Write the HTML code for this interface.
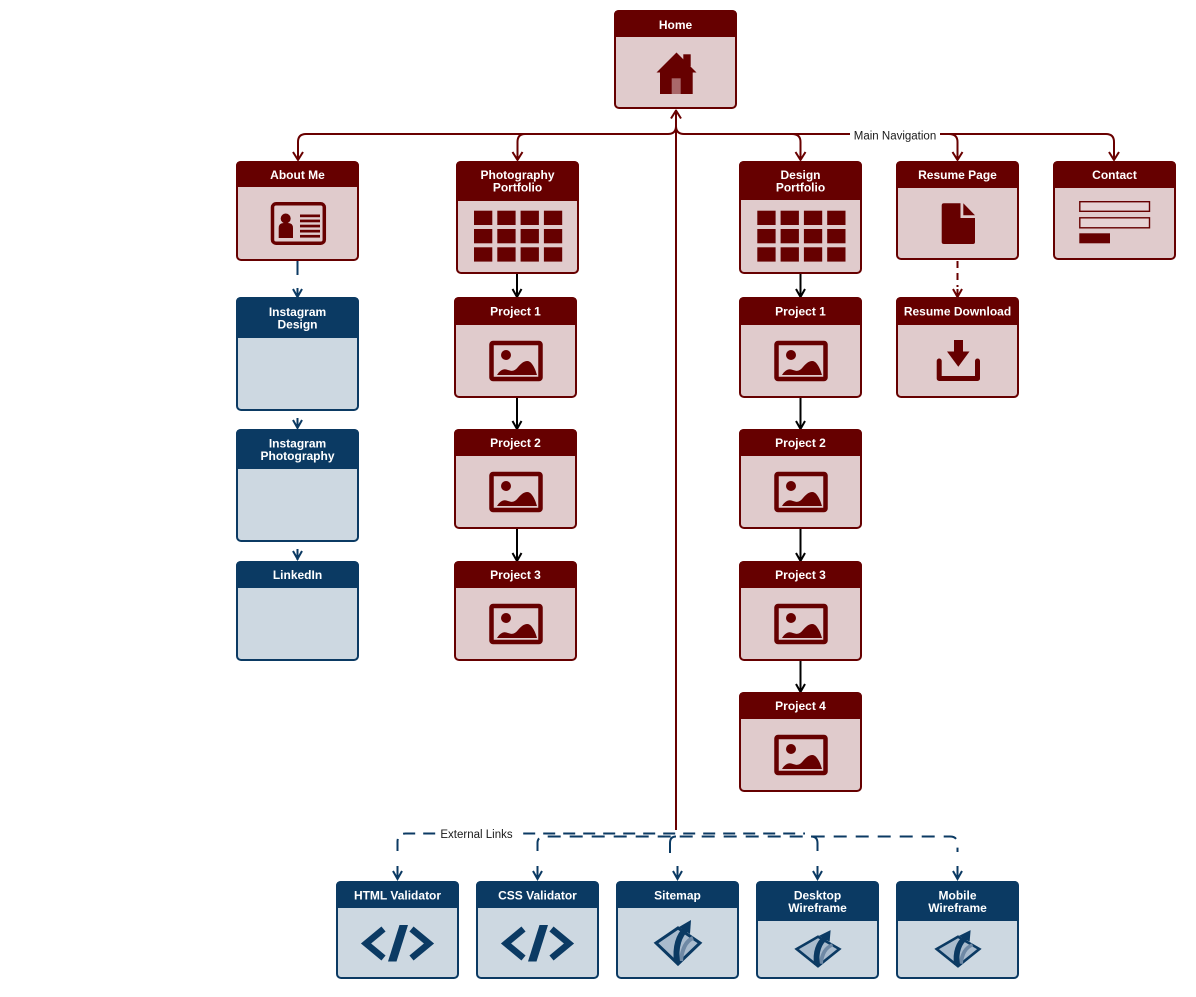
<!DOCTYPE html>
<html>
<head>
<meta charset="utf-8">
<style>
  html,body{margin:0;padding:0;background:#fff;}
  svg{display:block;}
  text{font-family:"Liberation Sans",Arial,sans-serif;}
  .h{fill:#fff;font-weight:bold;font-size:12px;text-anchor:middle;}
  .lbl{fill:#1a1a1a;font-size:11.5px;text-anchor:middle;}
</style>
</head>
<body>
<svg width="1196" height="997" viewBox="0 0 1196 997" xmlns="http://www.w3.org/2000/svg">
  <rect x="0" y="0" width="1196" height="997" fill="#fff"/>

  <!-- ============ Main navigation connectors ============ -->
  <g fill="none" stroke="#690000" stroke-width="2" stroke-linejoin="round">
    <path d="M676,110 V830"/>
    <path d="M676,112 V126 Q676,134 668,134 H306 Q298,134 298,142 V160"/>
    <path d="M525,134 Q517.5,134 517.5,142 V160"/>
    <path d="M676,112 V126 Q676,134 684,134 H1106 Q1114,134 1114,142 V160"/>
    <path d="M792,134 Q800.5,134 800.5,142 V160"/>
    <path d="M949,134 Q957.5,134 957.5,142 V160"/>
    <!-- arrowheads -->
    <polyline points="671,118.5 676,110.5 681,118.5"/>
    <polyline points="293,152 298,160 303,152"/>
    <polyline points="512.5,152 517.5,160 522.5,152"/>
    <polyline points="795.5,152 800.5,160 805.5,152"/>
    <polyline points="952.5,152 957.5,160 962.5,152"/>
    <polyline points="1109,152 1114,160 1119,152"/>
    <!-- resume dashed -->
    <path d="M957.5,261 V287" stroke-dasharray="7 5"/>
    <polyline points="953,289 957.5,297 962,289"/>
    <path d="M957.5,289 V296"/>
  </g>
  <rect x="850" y="128" width="90" height="14" fill="#fff"/>
  <text class="lbl" x="895" y="139.5">Main Navigation</text>

  <!-- black project connectors -->
  <g fill="none" stroke="#000" stroke-width="2">
    <path d="M517,273 V296"/><polyline points="512.5,289 517,297 521.5,289"/>
    <path d="M517,397 V428"/><polyline points="512.5,421 517,429 521.5,421"/>
    <path d="M517,528 V560"/><polyline points="512.5,553 517,561 521.5,553"/>
    <path d="M800.5,273 V296"/><polyline points="796,289 800.5,297 805,289"/>
    <path d="M800.5,397 V428"/><polyline points="796,421 800.5,429 805,421"/>
    <path d="M800.5,528 V560"/><polyline points="796,553 800.5,561 805,553"/>
    <path d="M800.5,660 V691"/><polyline points="796,684 800.5,692 805,684"/>
  </g>

  <!-- navy left column connectors -->
  <g fill="none" stroke="#0b3a63" stroke-width="2">
    <path d="M297.5,261 V275"/>
    <path d="M297.5,288 V296"/><polyline points="293,289 297.5,297 302,289"/>
    <path d="M297.5,418 V428"/><polyline points="293,420 297.5,428 302,420"/>
    <path d="M297.5,549 V560"/><polyline points="293,551 297.5,559 302,551"/>
  </g>

  <!-- ============ External links dashed ============ -->
  <g fill="none" stroke="#0b3a63" stroke-width="2">
    <path d="M397.5,851 V842 Q397.5,833.5 405.5,833.5 H805" stroke-dasharray="12 8"/>
    <path d="M537.5,851 V843 Q537.5,836.5 545,836.5 H950 Q957.5,836.5 957.5,844 V852" stroke-dasharray="13 9"/>
    <path d="M670,853 V843 Q670,836.5 676,836.5"/>
    <path d="M817.5,851 V843 Q817.5,836.5 811,836.5"/>
    <!-- arrowheads -->
    <path d="M397.5,866 V879"/><polyline points="393,871 397.5,879 402,871"/>
    <path d="M537.5,866 V879"/><polyline points="533,871 537.5,879 542,871"/>
    <path d="M677.5,866 V879"/><polyline points="673,871 677.5,879 682,871"/>
    <path d="M817.5,866 V879"/><polyline points="813,871 817.5,879 822,871"/>
    <path d="M957.5,866 V879"/><polyline points="953,871 957.5,879 962,871"/>
  </g>
  <rect x="436" y="827" width="81" height="14" fill="#fff"/>
  <text class="lbl" x="476.5" y="838">External Links</text>

  <!-- ============ Red nodes ============ -->
  <g stroke="#660000" stroke-width="2" fill="#e0cbcc">
    <rect x="615" y="11" width="121" height="97" rx="4"/>
    <rect x="237" y="162" width="121" height="98" rx="4"/>
    <rect x="457" y="162" width="121" height="111" rx="4"/>
    <rect x="740" y="162" width="121" height="111" rx="4"/>
    <rect x="897" y="162" width="121" height="97" rx="4"/>
    <rect x="1054" y="162" width="121" height="97" rx="4"/>
    <rect x="455" y="298" width="121" height="99" rx="4"/>
    <rect x="455" y="430" width="121" height="98" rx="4"/>
    <rect x="455" y="562" width="121" height="98" rx="4"/>
    <rect x="740" y="298" width="121" height="99" rx="4"/>
    <rect x="740" y="430" width="121" height="98" rx="4"/>
    <rect x="740" y="562" width="121" height="98" rx="4"/>
    <rect x="740" y="693" width="121" height="98" rx="4"/>
    <rect x="897" y="298" width="121" height="99" rx="4"/>
  </g>
  <g fill="#660000">
    <path d="M614,37 V15 Q614,10 619,10 H732 Q737,10 737,15 V37 Z"/>
    <path d="M236,187 V166 Q236,161 241,161 H354 Q359,161 359,166 V187 Z"/>
    <path d="M456,201 V166 Q456,161 461,161 H574 Q579,161 579,166 V201 Z"/>
    <path d="M739,200 V166 Q739,161 744,161 H857 Q862,161 862,166 V200 Z"/>
    <path d="M896,188 V166 Q896,161 901,161 H1014 Q1019,161 1019,166 V188 Z"/>
    <path d="M1053,188 V166 Q1053,161 1058,161 H1171 Q1176,161 1176,166 V188 Z"/>
    <path d="M454,325 V302 Q454,297 459,297 H572 Q577,297 577,302 V325 Z"/>
    <path d="M454,456 V434 Q454,429 459,429 H572 Q577,429 577,434 V456 Z"/>
    <path d="M454,588 V566 Q454,561 459,561 H572 Q577,561 577,566 V588 Z"/>
    <path d="M739,325 V302 Q739,297 744,297 H857 Q862,297 862,302 V325 Z"/>
    <path d="M739,456 V434 Q739,429 744,429 H857 Q862,429 862,434 V456 Z"/>
    <path d="M739,588 V566 Q739,561 744,561 H857 Q862,561 862,566 V588 Z"/>
    <path d="M739,719 V697 Q739,692 744,692 H857 Q862,692 862,697 V719 Z"/>
    <path d="M896,325 V302 Q896,297 901,297 H1014 Q1019,297 1019,302 V325 Z"/>
  </g>
  <text class="h" x="675.5" y="29">Home</text>
  <text class="h" x="297.5" y="179">About Me</text>
  <text class="h" x="517.5" y="179">Photography</text>
  <text class="h" x="517.5" y="191.5">Portfolio</text>
  <text class="h" x="800.5" y="179">Design</text>
  <text class="h" x="800.5" y="191.5">Portfolio</text>
  <text class="h" x="957.5" y="179">Resume Page</text>
  <text class="h" x="1114.5" y="179">Contact</text>
  <text class="h" x="515.5" y="315.5">Project 1</text>
  <text class="h" x="515.5" y="447">Project 2</text>
  <text class="h" x="515.5" y="579">Project 3</text>
  <text class="h" x="800.5" y="315.5">Project 1</text>
  <text class="h" x="800.5" y="447">Project 2</text>
  <text class="h" x="800.5" y="579">Project 3</text>
  <text class="h" x="800.5" y="710">Project 4</text>
  <text class="h" x="957.5" y="315.5">Resume Download</text>

  <!-- ============ Navy nodes ============ -->
  <g stroke="#0b3a63" stroke-width="2" fill="#cdd8e1">
    <rect x="237" y="298" width="121" height="112" rx="4"/>
    <rect x="237" y="430" width="121" height="111" rx="4"/>
    <rect x="237" y="562" width="121" height="98" rx="4"/>
    <rect x="337" y="882" width="121" height="96" rx="4"/>
    <rect x="477" y="882" width="121" height="96" rx="4"/>
    <rect x="617" y="882" width="121" height="96" rx="4"/>
    <rect x="757" y="882" width="121" height="96" rx="4"/>
    <rect x="897" y="882" width="121" height="96" rx="4"/>
  </g>
  <g fill="#0b3a63">
    <path d="M236,338 V302 Q236,297 241,297 H354 Q359,297 359,302 V338 Z"/>
    <path d="M236,469 V434 Q236,429 241,429 H354 Q359,429 359,434 V469 Z"/>
    <path d="M236,588 V566 Q236,561 241,561 H354 Q359,561 359,566 V588 Z"/>
    <path d="M336,908 V886 Q336,881 341,881 H454 Q459,881 459,886 V908 Z"/>
    <path d="M476,908 V886 Q476,881 481,881 H594 Q599,881 599,886 V908 Z"/>
    <path d="M616,908 V886 Q616,881 621,881 H734 Q739,881 739,886 V908 Z"/>
    <path d="M756,921 V886 Q756,881 761,881 H874 Q879,881 879,886 V921 Z"/>
    <path d="M896,921 V886 Q896,881 901,881 H1014 Q1019,881 1019,886 V921 Z"/>
  </g>
  <text class="h" x="297.5" y="316">Instagram</text>
  <text class="h" x="297.5" y="328.5">Design</text>
  <text class="h" x="297.5" y="447.5">Instagram</text>
  <text class="h" x="297.5" y="460">Photography</text>
  <text class="h" x="297.5" y="579">LinkedIn</text>
  <text class="h" x="397.5" y="899.5">HTML Validator</text>
  <text class="h" x="537.5" y="899.5">CSS Validator</text>
  <text class="h" x="677.5" y="899.5">Sitemap</text>
  <text class="h" x="817.5" y="899.5">Desktop</text>
  <text class="h" x="817.5" y="912">Wireframe</text>
  <text class="h" x="957.5" y="899.5">Mobile</text>
  <text class="h" x="957.5" y="912">Wireframe</text>

  <!-- ============ Icons ============ -->
  <!-- Home house -->
  <g fill="#660000">
    <polygon points="656.5,72.5 676.5,52.5 696.5,72.5"/>
    <rect x="683.3" y="54.3" width="7.4" height="12"/>
    <rect x="660" y="71" width="32.7" height="23"/>
    <rect x="671.7" y="78.3" width="9" height="15.7" fill="#a9686a"/>
  </g>

  <!-- ID card -->
  <g fill="#660000">
    <rect x="272.5" y="203.8" width="51.8" height="39.4" rx="3.5" fill="none" stroke="#660000" stroke-width="3.5"/>
    <circle cx="285.7" cy="218.5" r="5"/>
    <path d="M278.7,238 V228 Q278.7,223 283.7,223 H288 Q293,223 293,228 V238 Z"/>
    <rect x="300" y="214.5" width="20" height="2.7"/>
    <rect x="300" y="219.6" width="20" height="2.7"/>
    <rect x="300" y="224.7" width="20" height="2.7"/>
    <rect x="300" y="229.8" width="20" height="2.7"/>
    <rect x="300" y="234.9" width="20" height="2.7"/>
  </g>

  <!-- Grids -->
  <g fill="#660000">
    <rect x="474" y="210.7" width="18.3" height="14.3"/><rect x="497.3" y="210.7" width="18.3" height="14.3"/><rect x="520.6" y="210.7" width="18.3" height="14.3"/><rect x="543.9" y="210.7" width="18.3" height="14.3"/>
    <rect x="474" y="229" width="18.3" height="14.3"/><rect x="497.3" y="229" width="18.3" height="14.3"/><rect x="520.6" y="229" width="18.3" height="14.3"/><rect x="543.9" y="229" width="18.3" height="14.3"/>
    <rect x="474" y="247.3" width="18.3" height="14.3"/><rect x="497.3" y="247.3" width="18.3" height="14.3"/><rect x="520.6" y="247.3" width="18.3" height="14.3"/><rect x="543.9" y="247.3" width="18.3" height="14.3"/>

    <rect x="757.3" y="210.7" width="18.3" height="14.3"/><rect x="780.6" y="210.7" width="18.3" height="14.3"/><rect x="803.9" y="210.7" width="18.3" height="14.3"/><rect x="827.2" y="210.7" width="18.3" height="14.3"/>
    <rect x="757.3" y="229" width="18.3" height="14.3"/><rect x="780.6" y="229" width="18.3" height="14.3"/><rect x="803.9" y="229" width="18.3" height="14.3"/><rect x="827.2" y="229" width="18.3" height="14.3"/>
    <rect x="757.3" y="247.3" width="18.3" height="14.3"/><rect x="780.6" y="247.3" width="18.3" height="14.3"/><rect x="803.9" y="247.3" width="18.3" height="14.3"/><rect x="827.2" y="247.3" width="18.3" height="14.3"/>
  </g>

  <!-- Document icon -->
  <g fill="#660000">
    <path d="M944,203.3 H960.5 V218 H975 V242 Q975,244 973,244 H944 Q941.7,244 941.7,242 V205.5 Q941.7,203.3 944,203.3 Z"/>
    <path d="M963.3,203.3 L975,215.2 H963.3 Z"/>
  </g>

  <!-- Contact form icon -->
  <g stroke="#660000" stroke-width="1.4" fill="#e6d3d4">
    <rect x="1079.8" y="201.7" width="69.7" height="9.6"/>
    <rect x="1079.8" y="217.8" width="69.7" height="10"/>
  </g>
  <rect x="1079.3" y="233.3" width="30.7" height="10" fill="#660000"/>

  <!-- Download icon -->
  <g fill="#660000">
    <rect x="954" y="340" width="9" height="13"/>
    <polygon points="947,351.5 969.5,351.5 958.3,366.7"/>
  </g>
  <path d="M939.2,361 V378.5 H977.5 V361" fill="none" stroke="#660000" stroke-width="5" stroke-linecap="round" stroke-linejoin="round"/>

  <!-- Image icons -->
  <g fill="#660000">
    <g transform="translate(516,361)">
      <rect x="-24.5" y="-18" width="49" height="36" rx="1.5" fill="none" stroke="#660000" stroke-width="4.5"/>
      <circle cx="-10" cy="-6" r="5"/>
      <path d="M-19,14 C-16,9 -12,7 -8,9 C-5,10 -2,11 2,6 C6,1 12,-3 16,3 C19,7 20,11 21,14 Z"/>
    </g>
    <g transform="translate(516,492)">
      <rect x="-24.5" y="-18" width="49" height="36" rx="1.5" fill="none" stroke="#660000" stroke-width="4.5"/>
      <circle cx="-10" cy="-6" r="5"/>
      <path d="M-19,14 C-16,9 -12,7 -8,9 C-5,10 -2,11 2,6 C6,1 12,-3 16,3 C19,7 20,11 21,14 Z"/>
    </g>
    <g transform="translate(516,624)">
      <rect x="-24.5" y="-18" width="49" height="36" rx="1.5" fill="none" stroke="#660000" stroke-width="4.5"/>
      <circle cx="-10" cy="-6" r="5"/>
      <path d="M-19,14 C-16,9 -12,7 -8,9 C-5,10 -2,11 2,6 C6,1 12,-3 16,3 C19,7 20,11 21,14 Z"/>
    </g>
    <g transform="translate(801,361)">
      <rect x="-24.5" y="-18" width="49" height="36" rx="1.5" fill="none" stroke="#660000" stroke-width="4.5"/>
      <circle cx="-10" cy="-6" r="5"/>
      <path d="M-19,14 C-16,9 -12,7 -8,9 C-5,10 -2,11 2,6 C6,1 12,-3 16,3 C19,7 20,11 21,14 Z"/>
    </g>
    <g transform="translate(801,492)">
      <rect x="-24.5" y="-18" width="49" height="36" rx="1.5" fill="none" stroke="#660000" stroke-width="4.5"/>
      <circle cx="-10" cy="-6" r="5"/>
      <path d="M-19,14 C-16,9 -12,7 -8,9 C-5,10 -2,11 2,6 C6,1 12,-3 16,3 C19,7 20,11 21,14 Z"/>
    </g>
    <g transform="translate(801,624)">
      <rect x="-24.5" y="-18" width="49" height="36" rx="1.5" fill="none" stroke="#660000" stroke-width="4.5"/>
      <circle cx="-10" cy="-6" r="5"/>
      <path d="M-19,14 C-16,9 -12,7 -8,9 C-5,10 -2,11 2,6 C6,1 12,-3 16,3 C19,7 20,11 21,14 Z"/>
    </g>
    <g transform="translate(801,755)">
      <rect x="-24.5" y="-18" width="49" height="36" rx="1.5" fill="none" stroke="#660000" stroke-width="4.5"/>
      <circle cx="-10" cy="-6" r="5"/>
      <path d="M-19,14 C-16,9 -12,7 -8,9 C-5,10 -2,11 2,6 C6,1 12,-3 16,3 C19,7 20,11 21,14 Z"/>
    </g>
  </g>

  <!-- Code icons -->
  <g fill="none" stroke="#0b3a63" stroke-width="6.5" stroke-linejoin="miter" stroke-miterlimit="6">
    <polyline points="383.5,929 366,943.5 383.5,958"/>
    <polyline points="411.5,929 429,943.5 411.5,958"/>
    <polyline points="523.5,929 506,943.5 523.5,958"/>
    <polyline points="551.5,929 569,943.5 551.5,958"/>
  </g>
  <g fill="#0b3a63">
    <polygon points="388,961.5 396.5,961.5 408,925 399.5,925"/>
    <polygon points="528,961.5 536.5,961.5 548,925 539.5,925"/>
  </g>

  <!-- Diamond/arrow icons -->
  <g transform="translate(678,943)">
    <path d="M-22,0 L0,-15 L22,0 L0,21 Z" fill="#a9bbcd" stroke="#0b3a63" stroke-width="3" stroke-linejoin="miter"/>
    <path d="M3,18 C4,6 8,-2 15,-5" fill="none" stroke="#6f89a5" stroke-width="4"/>
    <path d="M-1,19 C-3,4 1,-8 8,-14" fill="none" stroke="#0b3a63" stroke-width="6"/>
    <polygon points="1,-16 13,-23 12,-9" fill="#0b3a63"/>
  </g>
  <g transform="translate(818,949) scale(0.97,0.82)">
    <path d="M-22,0 L0,-15 L22,0 L0,21 Z" fill="#a9bbcd" stroke="#0b3a63" stroke-width="3" stroke-linejoin="miter"/>
    <path d="M3,18 C4,6 8,-2 15,-5" fill="none" stroke="#6f89a5" stroke-width="4"/>
    <path d="M-1,19 C-3,4 1,-8 8,-14" fill="none" stroke="#0b3a63" stroke-width="6"/>
    <polygon points="1,-16 13,-23 12,-9" fill="#0b3a63"/>
  </g>
  <g transform="translate(958,949) scale(0.97,0.82)">
    <path d="M-22,0 L0,-15 L22,0 L0,21 Z" fill="#a9bbcd" stroke="#0b3a63" stroke-width="3" stroke-linejoin="miter"/>
    <path d="M3,18 C4,6 8,-2 15,-5" fill="none" stroke="#6f89a5" stroke-width="4"/>
    <path d="M-1,19 C-3,4 1,-8 8,-14" fill="none" stroke="#0b3a63" stroke-width="6"/>
    <polygon points="1,-16 13,-23 12,-9" fill="#0b3a63"/>
  </g>
</svg>
</body>
</html>
